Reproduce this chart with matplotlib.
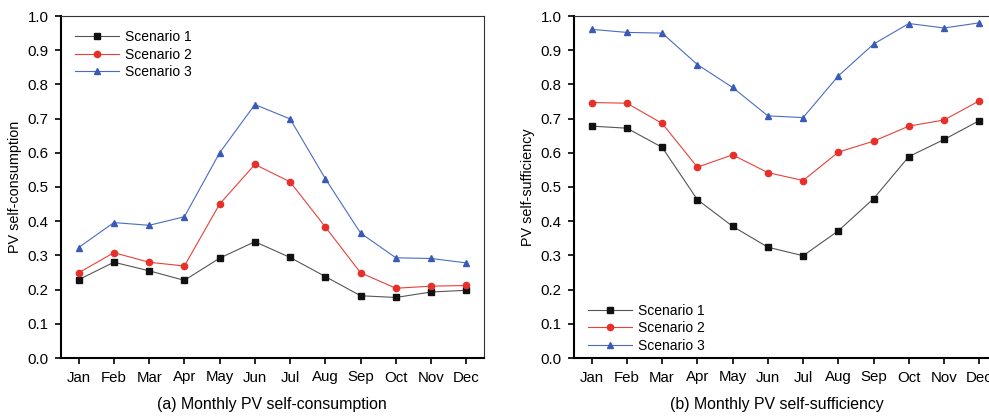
import matplotlib
matplotlib.use("Agg")
import matplotlib.pyplot as plt
import numpy as np

plt.rcParams.update({
    "font.family": ["Liberation Sans", "DejaVu Sans"],
    "font.size": 9,
})

months = ["Jan", "Feb", "Mar", "Apr", "May", "Jun",
          "Jul", "Aug", "Sep", "Oct", "Nov", "Dec"]
labels = ["Scenario 1", "Scenario 2", "Scenario 3"]

cons_s1 = [0.229, 0.280, 0.255, 0.227, 0.292, 0.340, 0.294, 0.238, 0.182, 0.177, 0.193, 0.198]
cons_s2 = [0.249, 0.308, 0.280, 0.269, 0.450, 0.566, 0.515, 0.383, 0.249, 0.204, 0.210, 0.212]
cons_s3 = [0.323, 0.396, 0.388, 0.413, 0.600, 0.741, 0.699, 0.524, 0.365, 0.293, 0.291, 0.278]

suff_s1 = [0.678, 0.672, 0.616, 0.463, 0.385, 0.324, 0.299, 0.372, 0.466, 0.589, 0.639, 0.694]
suff_s2 = [0.747, 0.745, 0.686, 0.558, 0.594, 0.542, 0.519, 0.602, 0.634, 0.678, 0.696, 0.752]
suff_s3 = [0.961, 0.952, 0.950, 0.858, 0.791, 0.708, 0.703, 0.825, 0.918, 0.978, 0.965, 0.980]

styles = [
    dict(color="#555555", mfc="#111111", mec="#111111", marker="s", ms=4.5),
    dict(color="#e8413a", mfc="#e8302a", mec="#e8302a", marker="o", ms=4.5),
    dict(color="#4a6cc0", mfc="#3a5bb5", mec="#3a5bb5", marker="^", ms=5),
]

W, H = 989, 417
fig = plt.figure(figsize=(W / 100, H / 100), dpi=100)


def px_axes(left, top, right, bottom):
    return fig.add_axes([left / W, 1 - bottom / H, (right - left) / W, (bottom - top) / H])


def setup(ax, series, ylabel, legend_anchor):
    x = np.arange(len(months))
    for vals, lab, st in zip(series, labels, styles):
        ax.plot(x, vals, lw=0.8, label=lab, **st)
    ax.set_xlim(-0.5, 11.5)
    ax.set_ylim(0, 1.0)
    ax.set_xticks(x)
    ax.set_xticklabels(months)
    ax.set_yticks(np.arange(0, 1.01, 0.1))
    ax.set_yticklabels([f"{v:.1f}" for v in np.arange(0, 1.01, 0.1)])
    ax.tick_params(direction="out", length=4, width=1.2, labelsize=10.8, pad=5)
    for s in ("left", "bottom"):
        ax.spines[s].set_linewidth(1.5)
    for s in ("top", "right"):
        ax.spines[s].set_linewidth(0.8)
        ax.spines[s].set_color("#333333")
    ax.set_ylabel(ylabel, fontsize=10.4, labelpad=4)
    ax.legend(loc="upper left", bbox_to_anchor=legend_anchor, frameon=False,
              handlelength=3.2, handletextpad=0.4, labelspacing=0.25,
              fontsize=10, borderaxespad=0)


ax1 = px_axes(61, 16, 484, 358)
setup(ax1, [cons_s1, cons_s2, cons_s3], "PV self-consumption", (0.02, 0.975))
fig.text(272 / W, 1 - 405 / H, "(a) Monthly PV self-consumption",
         ha="center", va="center", fontsize=11.4)

ax2 = px_axes(574, 16, 997, 358)
setup(ax2, [suff_s1, suff_s2, suff_s3], "PV self-sufficiency", (0.02, 0.175))
fig.text(777 / W, 1 - 405 / H, "(b) Monthly PV self-sufficiency",
         ha="center", va="center", fontsize=11.4)

fig.savefig("out.png", dpi=100)
